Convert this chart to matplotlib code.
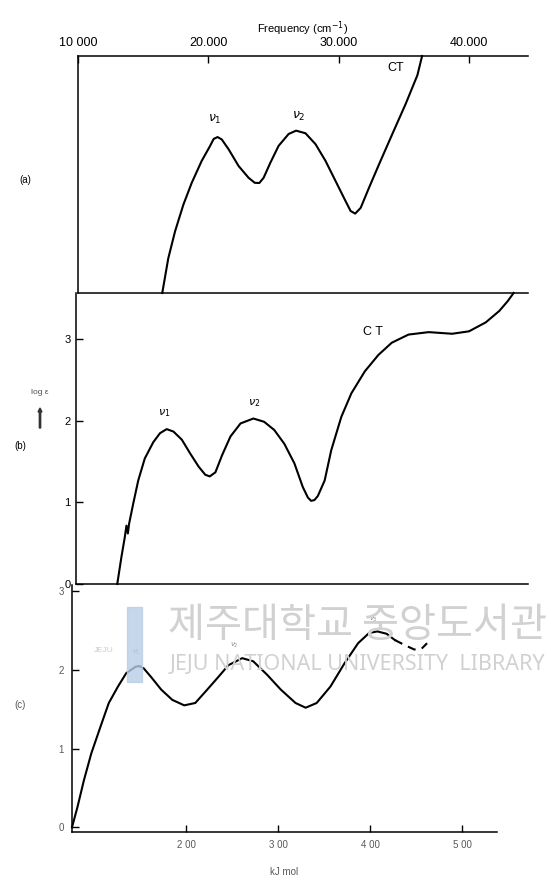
import matplotlib.pyplot as plt
from matplotlib.patches import Rectangle

plt.rcParams['font.family'] = ['Liberation Sans', 'DejaVu Sans']

# (a) spectrum, arbitrary units, vs frequency (cm-1)
freq_a = [16460, 16920, 17440, 18080, 18720, 19480, 20130, 20400, 20700, 21020, 21540,
          22310, 23080, 23550, 23900, 24230, 24750, 25380, 26150, 26720, 27440, 28210,
          28980, 29750, 30520, 30900, 31250, 31670, 32310, 33080, 34100, 35130, 36020, 36380]
absb_a = [0.0, 0.146, 0.26, 0.373, 0.465, 0.557, 0.621, 0.650, 0.658, 0.648, 0.607,
          0.536, 0.486, 0.465, 0.464, 0.486, 0.550, 0.621, 0.671, 0.685, 0.674, 0.628,
          0.557, 0.472, 0.387, 0.346, 0.335, 0.359, 0.444, 0.543, 0.671, 0.799, 0.919, 1.0]

# (b) log eps vs frequency (cm-1)
freq_b = [13150, 13460, 13720, 13850, 13960, 14050, 14360, 14750, 15250, 15900,
          16410, 16920, 17440, 18080, 18720, 19360, 19870, 20210, 20640, 21150,
          21790, 22560, 23540, 24360, 25130, 25900, 26670, 27310, 27700, 27950, 28200,
          28460, 28980, 29480, 30250, 31020, 32050, 33080, 34100, 35380, 36920, 38710,
          40000, 41280, 42310, 42950, 43400]
logeps_b = [0.0, 0.325, 0.57, 0.716, 0.62, 0.737, 0.98, 1.27, 1.54, 1.74,
            1.85, 1.90, 1.87, 1.77, 1.60, 1.44, 1.34, 1.32, 1.37, 1.58,
            1.81, 1.97, 2.03, 1.99, 1.89, 1.72, 1.48, 1.19, 1.06, 1.02, 1.03,
            1.08, 1.27, 1.64, 2.05, 2.34, 2.61, 2.81, 2.96, 3.06, 3.09, 3.07,
            3.10, 3.21, 3.35, 3.47, 3.57]

# (c) vs energy (kJ mol-1); solid part and dashed continuation
energy_c = [76, 82, 89, 97, 107, 116, 126, 135, 145, 149, 154, 162, 173, 185, 198,
            210, 223, 235, 246, 261, 273, 288, 303, 319, 330, 342, 357, 372, 387,
            399, 408, 418, 427]
val_c = [0.0, 0.26, 0.60, 0.94, 1.28, 1.58, 1.79, 1.96, 2.04, 2.05, 2.02, 1.91,
         1.75, 1.62, 1.55, 1.58, 1.75, 1.91, 2.06, 2.15, 2.11, 1.94, 1.75, 1.58,
         1.52, 1.58, 1.79, 2.08, 2.34, 2.47, 2.49, 2.46, 2.38]
energy_c_dash = [427, 437, 448, 456, 462]
val_c_dash = [2.38, 2.32, 2.26, 2.27, 2.34]

freq_ticks = [10000, 20000, 30000, 40000]
freq_labels = ['10 000', '20.000', '30.000', '40.000']
energy_ticks = [200, 300, 400, 500]


def fx(px):
    return px / 551.0


def fy(py):
    return 1 - py / 881.0


fig = plt.figure(figsize=(5.51, 8.81), dpi=100)

lw = 1.5
ax_a = fig.add_axes([fx(78), fy(293), fx(528) - fx(78), fy(56) - fy(293)])
ax_b = fig.add_axes([fx(76), fy(584), fx(528) - fx(76), fy(293) - fy(584)])
ax_c = fig.add_axes([fx(72), fy(832), fx(497) - fx(72), fy(585) - fy(832)])

for ax in (ax_a, ax_b, ax_c):
    ax.spines['right'].set_visible(False)
    for s in ax.spines.values():
        s.set_linewidth(1.1)
    ax.patch.set_alpha(0)

# panel (a)
ax_a.plot(freq_a, absb_a, color='black', lw=lw, clip_on=False)
ax_a.set_xlim(10000, 44500)
ax_a.set_ylim(0, 1)
ax_a.xaxis.tick_top()
ax_a.xaxis.set_label_position('top')
ax_a.set_xticks(freq_ticks)
ax_a.set_xticklabels(freq_labels, fontsize=9)
ax_a.tick_params(axis='x', direction='in', length=5, width=1, pad=5)
ax_a.set_yticks([])
ax_a.set_xlabel('Frequency (cm$^{-1}$)', fontsize=8, labelpad=3)
ax_a.text(20500, 0.72, r'$\nu_1$', fontsize=9, ha='center')
ax_a.text(26900, 0.735, r'$\nu_2$', fontsize=9, ha='center')
ax_a.text(34390, 0.95, 'CT', fontsize=9, ha='center', va='center')

# panel (b)
ax_b.plot(freq_b, logeps_b, color='black', lw=lw, clip_on=False)
ax_b.set_xlim(10000, 44500)
ax_b.set_ylim(0, 3.57)
ax_b.spines['top'].set_visible(False)
ax_b.set_xticks([])
ax_b.set_yticks([0, 1, 2, 3])
ax_b.set_yticklabels(['0', '1', '2', '3'], fontsize=8)
ax_b.tick_params(axis='y', direction='in', length=5, width=1, pad=4)
ax_b.text(16770, 2.07, r'$\nu_1$', fontsize=8, ha='center')
ax_b.text(23620, 2.19, r'$\nu_2$', fontsize=8, ha='center')
ax_b.text(32690, 3.09, 'C T', fontsize=9, ha='center', va='center')

# panel (c)
ax_c.plot(energy_c, val_c, color='black', lw=lw, clip_on=False)
ax_c.plot(energy_c_dash, val_c_dash, color='black', lw=lw, ls=(0, (4, 3)))
ax_c.set_xlim(76, 538)
ax_c.set_ylim(-0.06, 3.08)
ax_c.spines['top'].set_visible(False)
ax_c.set_xticks(energy_ticks)
ax_c.set_xticklabels(['2 00', '3 00', '4 00', '5 00'], fontsize=7, color='0.35')
ax_c.set_yticks([0, 1, 2, 3])
ax_c.set_yticklabels(['0', '1', '2', '3'], fontsize=7, color='0.35')
ax_c.tick_params(direction='in', length=5, width=1, pad=6)
ax_c.set_xlabel('kJ mol', fontsize=7, color='0.35', labelpad=12)
ax_c.text(146, 2.20, r'$\nu_1$', fontsize=5, ha='center', color='0.55')
ax_c.text(252, 2.30, r'$\nu_2$', fontsize=5, ha='center', color='0.55')
ax_c.text(404, 2.62, r'$\nu_3$', fontsize=5, ha='center', color='0.55')

# side labels
fig.text(fx(25), fy(180), '(a)', fontsize=7, ha='center', va='center')
fig.text(fx(40), fy(392), 'log ε', fontsize=6, ha='center', va='center', color='0.3')
fig.patches.append(plt.Arrow(fx(40), fy(428), 0, fy(408) - fy(428), width=0.012,
                             color='0.2', transform=fig.transFigure, figure=fig))
fig.text(fx(20), fy(446), '(b)', fontsize=7, ha='center', va='center')
fig.text(fx(20), fy(705), '(c)', fontsize=7, ha='center', va='center', color='0.35')

# library watermark
fig.patches.append(Rectangle((fx(127), fy(682)), fx(142) - fx(127), fy(607) - fy(682),
                             color='#b9cde6', alpha=0.8, transform=fig.transFigure,
                             figure=fig, zorder=0))
fig.text(fx(104), fy(650), 'JEJU', fontsize=6, ha='center', va='center', color='0.8')
fig.text(fx(357), fy(625), '제주대학교 중앙도서관', fontsize=29, ha='center', va='center',
         color='0.82', family=['Noto Sans CJK KR', 'DejaVu Sans'], zorder=0)
fig.text(fx(358), fy(664), 'JEJU NATIONAL UNIVERSITY  LIBRARY', fontsize=15.5,
         ha='center', va='center', color='0.82', family=['Noto Sans', 'DejaVu Sans'],
         zorder=0)

fig.savefig('out.png', dpi=100)
